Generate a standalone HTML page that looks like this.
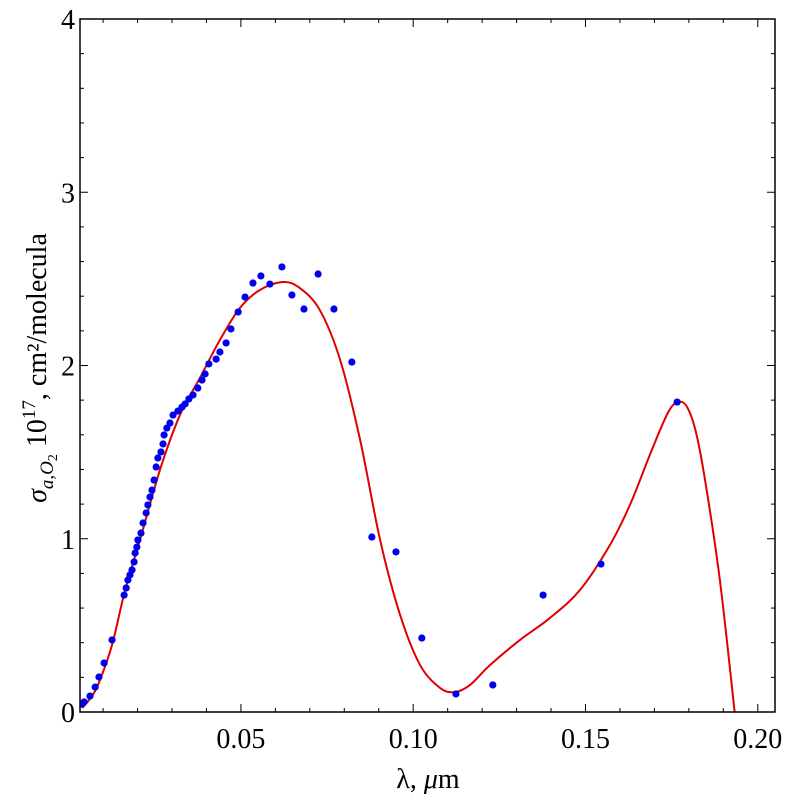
<!DOCTYPE html>
<html><head><meta charset="utf-8"><style>
body{margin:0;background:#fff}
svg{display:block;font-family:"Liberation Serif",serif}
</style></head><body>
<svg id="chart" width="800" height="800" viewBox="0 0 800 800" xmlns="http://www.w3.org/2000/svg">
<rect width="800" height="800" fill="#fff"/>
<defs><clipPath id="clip"><rect x="80" y="19" width="695" height="693"/></clipPath></defs>
<g id="ticks"></g>
<g id="curve" clip-path="url(#clip)"></g>
<g id="points" clip-path="url(#clip)"></g>
<rect x="80" y="19" width="695" height="693" fill="none" stroke="#000" stroke-width="1.5"/>
<g id="labels"></g>
<text x="428" y="788" font-size="28" text-anchor="middle">λ, <tspan font-style="italic">μ</tspan>m</text>
<text transform="translate(46,368) rotate(-90)" font-size="28" text-anchor="middle"><tspan font-style="italic">σ</tspan><tspan font-size="19" dy="7" font-style="italic">a,O</tspan><tspan font-size="14" dy="4">2</tspan><tspan dy="-11"> 10</tspan><tspan font-size="19" dy="-11">17</tspan><tspan dy="11">, cm²/molecula</tspan></text>
</svg>
<script>
const ptX=[0.0039,0.0045,0.0062,0.0077,0.0088,0.0103,0.0126,0.0161,0.0167,0.0172,0.0178,0.0184,0.0190,0.0193,0.0198,0.0201,0.0210,0.0216,0.0225,0.0230,0.0236,0.0242,0.0248,0.0254,0.0259,0.0268,0.0274,0.0277,0.0285,0.0294,0.0303,0.0317,0.0329,0.0338,0.0349,0.0361,0.0375,0.0387,0.0396,0.0407,0.0428,0.0439,0.0457,0.0471,0.0492,0.0512,0.0535,0.0558,0.0584,0.0619,0.0648,0.0683,0.0724,0.0770,0.0822,0.0880,0.0950,0.1025,0.1124,0.1231,0.1377,0.1545,0.1766];
const ptY=[0.046,0.058,0.092,0.144,0.202,0.283,0.416,0.675,0.716,0.762,0.791,0.820,0.866,0.918,0.952,0.993,1.033,1.091,1.149,1.195,1.241,1.281,1.339,1.414,1.466,1.501,1.547,1.599,1.639,1.668,1.714,1.737,1.760,1.778,1.807,1.830,1.870,1.916,1.951,2.009,2.037,2.078,2.130,2.211,2.309,2.395,2.476,2.517,2.470,2.569,2.407,2.326,2.528,2.326,2.020,1.010,0.924,0.427,0.104,0.156,0.675,0.854,1.789];
const fitX=[0.0039,0.0068,0.0091,0.0126,0.0164,0.0207,0.0265,0.0323,0.0381,0.0439,0.0497,0.0555,0.0622,0.0671,0.0729,0.0788,0.0846,0.0904,0.0962,0.1020,0.1078,0.1121,0.1165,0.1223,0.1310,0.1397,0.1484,0.1571,0.1630,0.1690,0.1740,0.1770,0.1795,0.1820,0.1847,0.1890,0.1934];
const fitY=[0.023,0.092,0.185,0.387,0.704,0.993,1.397,1.714,1.928,2.147,2.332,2.436,2.482,2.447,2.320,2.032,1.570,0.993,0.560,0.271,0.139,0.115,0.156,0.271,0.416,0.543,0.704,0.964,1.200,1.500,1.730,1.790,1.760,1.620,1.339,0.762,-0.02];
const xTicks=[0.05,0.10,0.15,0.20];
const xTickLabels=["0.05","0.10","0.15","0.20"];
const yTicks=[0,1,2,3,4];
const yTickLabels=["0","1","2","3","4"];
const X0=0.0033,X1=0.205,Y0=0,Y1=4;
const L=80,R=775,T=19,B=712;
const sx=v=>L+(v-X0)/(X1-X0)*(R-L);
const sy=v=>B-(v-Y0)/(Y1-Y0)*(B-T);
const NS="http://www.w3.org/2000/svg";
function mk(tag,attrs,parent){const e=document.createElementNS(NS,tag);for(const k in attrs)e.setAttribute(k,attrs[k]);document.getElementById(parent).appendChild(e);return e;}
for(let i=1;i<=20;i++){const v=i*0.01;const x=sx(v);const maj=(i%5===0);const len=maj?8:4;
 const t1=mk('line',{x1:x,x2:x,y1:B,y2:B-len,stroke:'#000','stroke-width':1},'ticks');
 
 
 const t2=mk('line',{x1:x,x2:x,y1:T,y2:T+len,stroke:'#000','stroke-width':1},'ticks');
 
 }
for(let i=0;i<=20;i++){const v=i*0.2;const y=sy(v);const maj=(i%5===0);const len=maj?8:4;
 const t1=mk('line',{x1:L,x2:L+len,y1:y,y2:y,stroke:'#000','stroke-width':1},'ticks');
 
 
 const t2=mk('line',{x1:R,x2:R-len,y1:y,y2:y,stroke:'#000','stroke-width':1},'ticks');
 
 }
xTicks.forEach((v,i)=>{const t=mk('text',{x:sx(v),y:748,'font-size':28,'text-anchor':'middle'},'labels');t.textContent=xTickLabels[i];
 
 });
yTicks.forEach((v,i)=>{const t=mk('text',{x:75,y:sy(v)+10,'font-size':28,'text-anchor':'end'},'labels');t.textContent=yTickLabels[i];
 
 });
const P=fitX.map((v,i)=>[sx(v),sy(fitY[i])]);
let d=`M${P[0][0]},${P[0][1]}`;
for(let i=0;i<P.length-1;i++){const p0=P[Math.max(0,i-1)],p1=P[i],p2=P[i+1],p3=P[Math.min(P.length-1,i+2)];
 d+=` C${p1[0]+(p2[0]-p0[0])/6},${p1[1]+(p2[1]-p0[1])/6} ${p2[0]-(p3[0]-p1[0])/6},${p2[1]-(p3[1]-p1[1])/6} ${p2[0]},${p2[1]}`;}
const c=mk('path',{d:d,fill:'none',stroke:'#e00000','stroke-width':2},'curve');


ptX.forEach((v,i)=>{const p=mk('circle',{cx:sx(v),cy:sy(ptY[i]),r:3.6,fill:'#0000ee'},'points');
 
 });
</script>
</body></html>
